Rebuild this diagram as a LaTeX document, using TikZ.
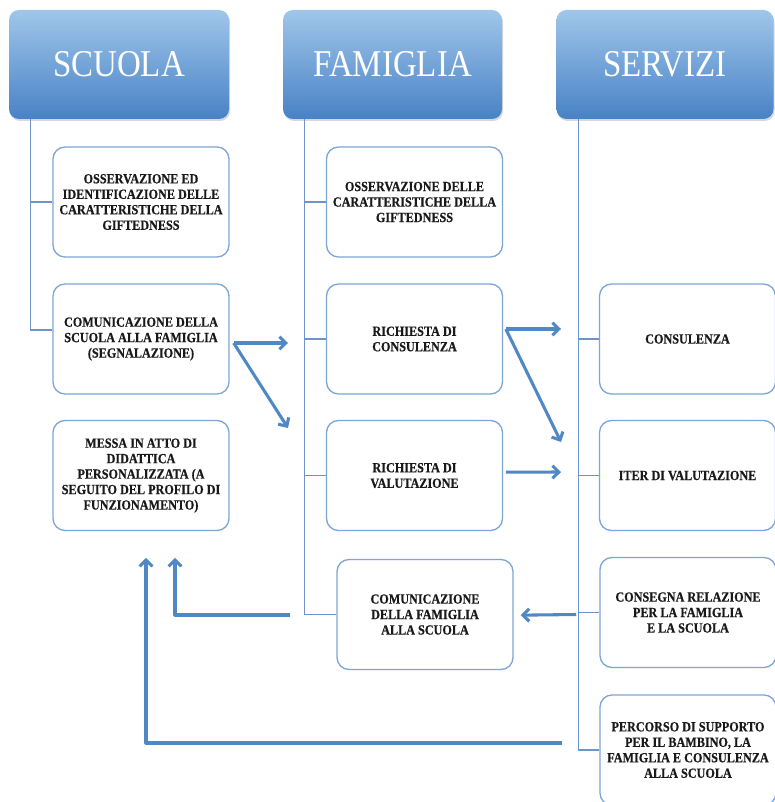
\documentclass[tikz,border=0pt]{standalone}
\usepackage{fontspec}
\setmainfont{Liberation Serif}[FakeStretch=0.87]
\newfontfamily\cardfont{Liberation Serif}[FakeStretch=0.87, FakeBold=0.4]
\usetikzlibrary{arrows.meta,shadows}

\definecolor{headtop}{RGB}{160,198,234}
\definecolor{headbot}{RGB}{72,130,197}
\definecolor{boxline}{RGB}{125,165,214}
\definecolor{treeline}{RGB}{108,148,200}
\definecolor{flowblue}{RGB}{80,136,198}
\definecolor{textgray}{RGB}{25,25,25}

\begin{document}
\begin{tikzpicture}
  [
    x=0.75pt, y=-0.75pt,
    head/.style = {rounded corners=7.5pt, minimum width=165pt, minimum height=81.75pt,
                   top color=headtop, bottom color=headbot, text=white,
                   font=\fontsize{28.4}{30}\selectfont,
                   drop shadow={opacity=0.3, shadow xshift=0.8pt, shadow yshift=-1.5pt}},
    card/.style = {draw=boxline, line width=1pt, rounded corners=9pt, fill=white,
                   minimum width=132pt, minimum height=82.5pt, align=center, text=textgray,
                   font=\cardfont\bfseries\fontsize{10.5}{11.6}\selectfont},
    tree/.style = {draw=treeline, line width=0.8pt},
    flow/.style = {draw=flowblue, line width=2.3pt, line join=round,
                   -{Straight Barb[length=4.8pt,width=9.5pt]}},
  ]

%Page frame
\fill[white] (0,0) rectangle (774,802);
\useasboundingbox (0,0) rectangle (774,802);

%Column titles
\node[head] (scuola) at (119,64.5) {SCUOLA};
\node[head, minimum width=164.25pt] (famiglia) at (392.5,64.5) {FAMIGLIA};
\node[head, minimum width=162.75pt] (servizi) at (665,64.5) {SERVIZI};

%Scuola column
\node[card] (s1) at (141,202) {OSSERVAZIONE ED\\IDENTIFICAZIONE DELLE\\CARATTERISTICHE DELLA\\GIFTEDNESS};
\node[card] (s2) at (141,339) {COMUNICAZIONE DELLA\\SCUOLA ALLA FAMIGLIA\\(SEGNALAZIONE)};
\node[card] (s3) at (141,475.5) {MESSA IN ATTO DI\\DIDATTICA\\PERSONALIZZATA (A\\SEGUITO DEL PROFILO DI\\FUNZIONAMENTO)};

%Famiglia column
\node[card] (f1) at (414.5,202) {OSSERVAZIONE DELLE\\CARATTERISTICHE DELLA\\GIFTEDNESS};
\node[card] (f2) at (414.5,339) {RICHIESTA DI\\CONSULENZA};
\node[card] (f3) at (414.5,475.5) {RICHIESTA DI\\VALUTAZIONE};
\node[card] (f4) at (425,614.5) {COMUNICAZIONE\\DELLA FAMIGLIA\\ALLA SCUOLA};

%Servizi column
\node[card] (v1) at (687.5,339) {CONSULENZA};
\node[card] (v2) at (687.5,475.5) {ITER DI VALUTAZIONE};
\node[card] (v3) at (688,612.5) {CONSEGNA RELAZIONE\\PER LA FAMIGLIA\\E LA SCUOLA};
\node[card] (v4) at (688,750) {PERCORSO DI SUPPORTO\\PER IL BAMBINO, LA\\FAMIGLIA E CONSULENZA\\ALLA SCUOLA};

%Trunks under the titles
\coordinate (strunk) at ([xshift=16.5pt]scuola.south west);
\coordinate (ftrunk) at ([xshift=16.5pt]famiglia.south west);
\coordinate (vtrunk) at ([xshift=16.5pt]servizi.south west);

\draw[tree] (strunk) |- (s1.west);
\draw[tree] (strunk) |- ([yshift=6.75pt]s2.west);
\foreach \b in {f1,f2,f3,f4}
  \draw[tree] (ftrunk) |- (\b.west);
\foreach \b in {v1,v2,v3,v4}
  \draw[tree] (vtrunk) |- (\b.west);

%Free ends of the arrows
\coordinate (p1) at (288,343);
\coordinate (p2) at (288,428);
\coordinate (q1) at (561,329);
\coordinate (q2) at (561,442);
\coordinate (q3) at (561,472);
\coordinate (r1) at (290,615);
\coordinate (r2) at (562,743);

%Arrows
\draw[flow] ([xshift=3pt,yshift=-3pt]s2.east) -- (p1);
\draw[flow] ([xshift=3pt,yshift=-3pt]s2.east) -- (p2);
\draw[flow] ([xshift=2pt,yshift=7.5pt]f2.east) -- (q1);
\draw[flow] ([xshift=2pt,yshift=7.5pt]f2.east) -- (q2);
\draw[flow] ([xshift=2pt,yshift=2.5pt]f3.east) -- (q3);
\draw[flow] ([xshift=-1.5pt,yshift=-1.5pt]vtrunk |- v3.west) -- ([xshift=5.25pt,yshift=-0.5pt]f4.east);
\draw[flow] (r1) -| ([xshift=25.5pt,yshift=-20pt]s3.south);
\draw[flow] (r2) -| ([xshift=3.75pt,yshift=-20pt]s3.south);
\end{tikzpicture}
\end{document}
